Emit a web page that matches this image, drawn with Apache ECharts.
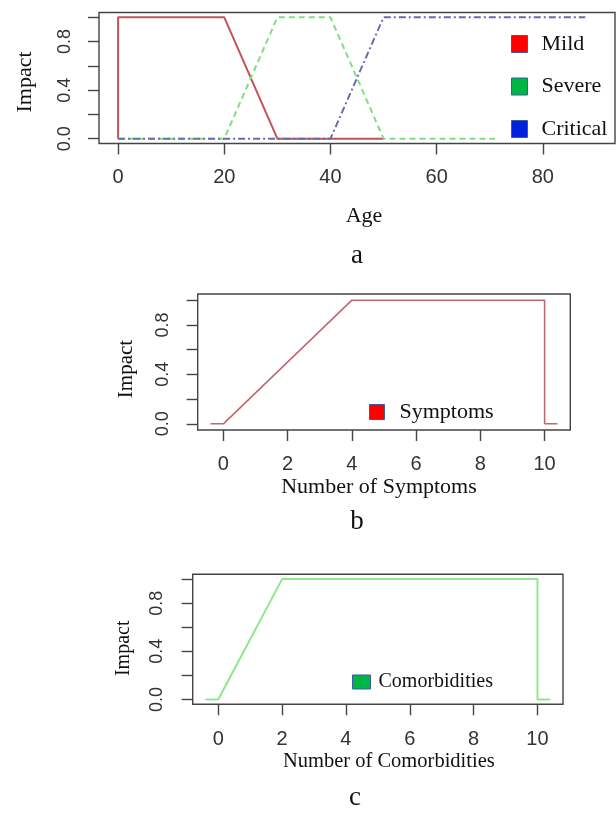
<!DOCTYPE html>
<html><head><meta charset="utf-8">
<script src="https://cdn.jsdelivr.net/npm/echarts@6/dist/echarts.min.js"></script>
<style>html,body{margin:0;padding:0;background:#fff}#c{width:616px;height:813px}</style>
</head><body><div id="c"></div>
<script>
// ---- data ----
const mildX = [0, 0, 20, 30, 50];
const mildY = [0, 1, 1, 0, 0];
const severeX = [0, 20, 30, 40, 50, 71];
const severeY = [0, 0, 1, 1, 0, 0];
const criticalX = [0, 40, 50, 88];
const criticalY = [0, 0, 1, 1];
const symptomsX = [-0.4, 0, 4, 10, 10, 10.4];
const symptomsY = [0, 0, 1, 1, 0, 0];
const comorbX = [-0.4, 0, 2, 10, 10, 10.4];
const comorbY = [0, 0, 1, 1, 0, 0];
const ageTicks = [0, 20, 40, 60, 80];
const countTicks = [0, 2, 4, 6, 8, 10];
const impactTicks = [0, 0.2, 0.4, 0.6, 0.8, 1.0];
const impactLabels = [0, 0.4, 0.8];
const captions = ['a', 'b', 'c'];

const zip = (xs, ys) => xs.map((x, i) => [x, ys[i]]);
const SERIF = 'Liberation Serif';
const SANS = 'Liberation Sans';
const AX = '#444';

function xAxis(gi, min, max, name, ticks, margin, nameGap, nameSize, pad) {
  return {
    type: 'value', gridIndex: gi, min: min, max: max, position: 'bottom',
    name: name, nameLocation: 'middle', nameGap: nameGap,
    nameTextStyle: { fontFamily: SERIF, fontSize: nameSize, color: '#111', padding: pad },
    axisLine: { show: false, onZero: false },
    axisTick: { show: true, length: 11, customValues: ticks, lineStyle: { color: AX, width: 1.4 } },
    axisLabel: { customValues: ticks, margin: margin, fontFamily: SANS, fontSize: 20, color: '#333', formatter: v => String(v) },
    splitLine: { show: false }
  };
}
function yAxis(gi, min, max, margin, nameGap, nameSize, pad) {
  return {
    type: 'value', gridIndex: gi, min: min, max: max, position: 'left',
    name: 'Impact', nameLocation: 'middle', nameGap: nameGap, nameRotate: 90,
    nameTextStyle: { fontFamily: SERIF, fontSize: nameSize, color: '#111', padding: pad },
    axisLine: { show: false, onZero: false },
    axisTick: { show: true, length: 11, customValues: impactTicks, lineStyle: { color: AX, width: 1.4 } },
    axisLabel: { customValues: impactLabels, rotate: 90, margin: margin, fontFamily: SANS, fontSize: 18, color: '#333', formatter: v => Number(v).toFixed(1) },
    splitLine: { show: false }
  };
}
function legend(left, top, w, h, gap, textPad, size, items) {
  return {
    orient: 'vertical', left: left, top: top, itemWidth: w, itemHeight: h, itemGap: gap,
    icon: 'rect', selectedMode: false, padding: 0,
    textStyle: { fontFamily: SERIF, fontSize: size, color: '#111', padding: [0, 0, 0, textPad], lineHeight: h },
    data: items.map(it => ({ name: it[0], itemStyle: { color: it[1], borderColor: '#3b5ba5', borderWidth: 1 } }))
  };
}
const gridStyle = { show: true, borderColor: AX, borderWidth: 1.4, backgroundColor: 'transparent' };

const option = {
  animation: false,
  backgroundColor: '#fff',
  grid: [
    Object.assign({ left: 99, top: 12.5, width: 516, height: 131 }, gridStyle),
    Object.assign({ left: 197.7, top: 294, width: 372.6, height: 136 }, gridStyle),
    Object.assign({ left: 192.7, top: 574.3, width: 370.3, height: 130 }, gridStyle)
  ],
  xAxis: [
    xAxis(0, -3.6, 93.6, 'Age', ageTicks, 24, 62, 22, [0, 0, 0, 14]),
    xAxis(1, -0.8, 10.8, 'Number of Symptoms', countTicks, 24, 46, 22, [0, 10, 0, 0]),
    xAxis(2, -0.8, 10.8, 'Number of Comorbidities', countTicks, 25, 47, 20.5, [0, 0, 0, 22])
  ],
  yAxis: [
    yAxis(0, -0.04, 1.04, 25, 63, 22, [0, 8, 0, 0]),
    yAxis(1, -0.05, 1.05, 26, 61, 21, [0, 14, 0, 0]),
    yAxis(2, -0.04, 1.04, 27, 59, 20, [0, 18, 0, 0])
  ],
  legend: [
    legend(511, 33, 16, 17, 20.5, 9, 22, [['Mild', '#ff0000'], ['Severe', '#00b545'], ['Critical', '#0022dd']]),
    legend(369, 401, 15, 15, 10, 10, 22, [['Symptoms', '#ff0000']]),
    legend(352, 672, 18, 14, 10, 3, 20, [['Comorbidities', '#00b545']])
  ],
  series: [
    { name: 'Mild', type: 'line', xAxisIndex: 0, yAxisIndex: 0, data: zip(mildX, mildY), showSymbol: false, symbol: 'none',
      lineStyle: { color: '#c05458', width: 2 }, itemStyle: { color: '#c05458' } },
    { name: 'Severe', type: 'line', xAxisIndex: 0, yAxisIndex: 0, data: zip(severeX, severeY), showSymbol: false, symbol: 'none',
      lineStyle: { color: '#7fe07f', width: 2, type: [6, 4] }, itemStyle: { color: '#7fe07f' } },
    { name: 'Critical', type: 'line', xAxisIndex: 0, yAxisIndex: 0, data: zip(criticalX, criticalY), showSymbol: false, symbol: 'none',
      lineStyle: { color: '#6a6aae', width: 2, type: [7, 3, 2, 3] }, itemStyle: { color: '#6a6aae' } },
    { name: 'Symptoms', type: 'line', xAxisIndex: 1, yAxisIndex: 1, data: zip(symptomsX, symptomsY), showSymbol: false, symbol: 'none',
      lineStyle: { color: '#c0686c', width: 1.6 }, itemStyle: { color: '#c0686c' } },
    { name: 'Comorbidities', type: 'line', xAxisIndex: 2, yAxisIndex: 2, data: zip(comorbX, comorbY), showSymbol: false, symbol: 'none',
      lineStyle: { color: '#8ee88e', width: 2 }, itemStyle: { color: '#8ee88e' } }
  ],
  graphic: [
    { type: 'text', x: 357, y: 256, style: { text: captions[0], fontFamily: SERIF, fontSize: 27, fill: '#111', textAlign: 'center', textVerticalAlign: 'middle' } },
    { type: 'text', x: 357, y: 522, style: { text: captions[1], fontFamily: SERIF, fontSize: 27, fill: '#111', textAlign: 'center', textVerticalAlign: 'middle' } },
    { type: 'text', x: 355, y: 798, style: { text: captions[2], fontFamily: SERIF, fontSize: 27, fill: '#111', textAlign: 'center', textVerticalAlign: 'middle' } }
  ]
};
const chart = echarts.init(document.getElementById('c'), null, { renderer: 'canvas' });
chart.setOption(option);
</script>
</body></html>
